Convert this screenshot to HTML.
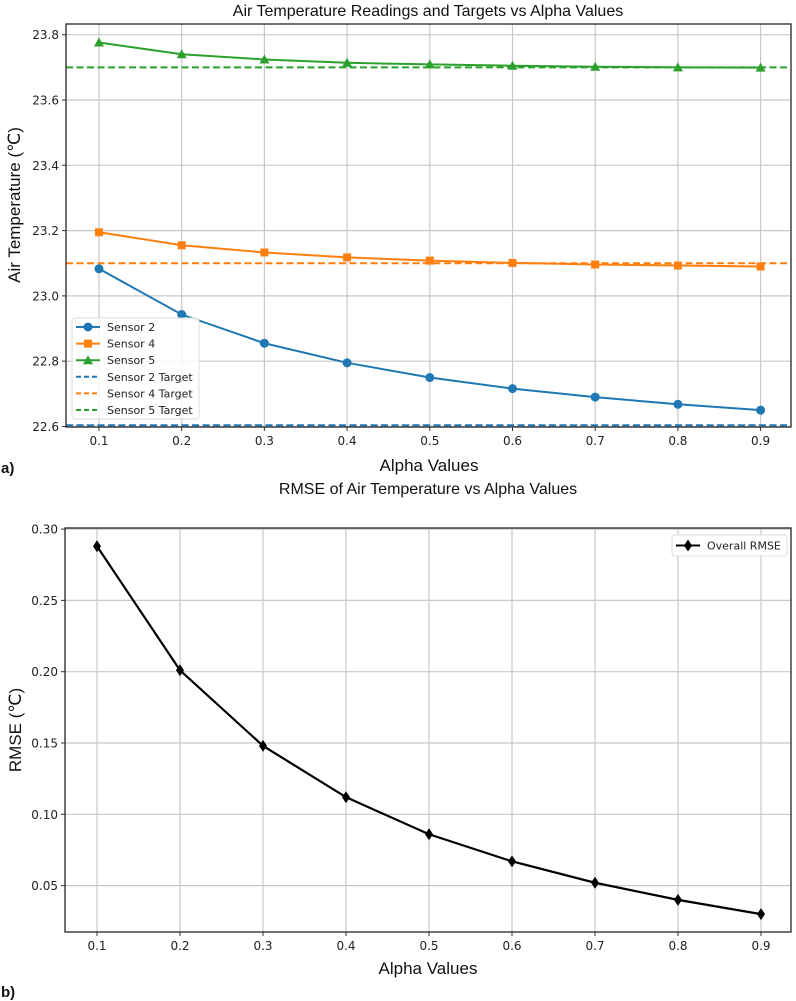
<!DOCTYPE html>
<html><head><meta charset="utf-8"><style>
html,body{margin:0;padding:0;background:#fff;}
svg{display:block;}
.tk{font-family:"DejaVu Sans",sans-serif;font-size:12px;fill:#222;}
.lg{font-family:"DejaVu Sans",sans-serif;font-size:11px;fill:#222;}
.lb{font-family:"Liberation Sans",Arial,sans-serif;fill:#111;}
</style></head><body>
<svg id="c" width="796" height="1001" xmlns="http://www.w3.org/2000/svg"></svg>
<script>
const alphas=[0.1,0.2,0.3,0.4,0.5,0.6,0.7,0.8,0.9];
const sensor2=[23.083,22.943,22.855,22.795,22.750,22.716,22.690,22.668,22.650];
const sensor4=[23.195,23.155,23.133,23.118,23.108,23.101,23.096,23.093,23.090];
const sensor5=[23.776,23.740,23.724,23.714,23.709,23.705,23.702,23.700,23.699];
const targets=[22.604,23.1,23.7];
const rmse=[0.288,0.201,0.148,0.112,0.086,0.067,0.052,0.040,0.030];
const topYTicks=[22.6,22.8,23.0,23.2,23.4,23.6,23.8];
const botYTicks=[0.05,0.10,0.15,0.20,0.25,0.30];
const xTicks=[0.1,0.2,0.3,0.4,0.5,0.6,0.7,0.8,0.9];

const NS="http://www.w3.org/2000/svg";
const svg=document.getElementById('c');
function mk(tag,attrs,parent,text){const e=document.createElementNS(NS,tag);for(const k in attrs)e.setAttribute(k,attrs[k]);if(text!==undefined)e.textContent=text;(parent||svg).appendChild(e);return e;}

const A={l:66,r:791,t:24,b:427};
const ax=v=>99+(v-0.1)*827;
const ay=v=>34.7+(23.8-v)*326.5;
const B={l:65,r:791,t:528,b:932};
const bx=v=>97+(v-0.1)*830;
const by=v=>814.3+(0.10-v)*1426;

function panel(P,fx,fy,yt,fmt,name){
  const g=mk('g',{},svg);
  
  
  xTicks.forEach(v=>{const x=fx(v);
    const l=mk('line',{x1:x,x2:x,y1:P.t,y2:P.b,stroke:'#c8c8c8','stroke-width':1.2},g);
    
    mk('line',{x1:x,x2:x,y1:P.b,y2:P.b+4,stroke:'#333'},g);
    const t=mk('text',{x:x,y:P.b+18,'text-anchor':'middle',class:'tk'},g,v.toFixed(1));
    
  });
  yt.forEach(v=>{const y=fy(v);
    const l=mk('line',{x1:P.l,x2:P.r,y1:y,y2:y,stroke:'#c8c8c8','stroke-width':1.2},g);
    
    mk('line',{x1:P.l-4,x2:P.l,y1:y,y2:y,stroke:'#333'},g);
    const t=mk('text',{x:P.l-7,y:y+4.5,'text-anchor':'end',class:'tk'},g,fmt(v));
    
  });
  return g;
}
function frame(P){const r=mk('rect',{x:P.l,y:P.t,width:P.r-P.l,height:P.b-P.t,fill:'none',stroke:'#333','stroke-width':1.4});
  }

function marker(type,x,y,c,parent){
  if(type==='o')return mk('circle',{cx:x,cy:y,r:4.5,fill:c},parent);
  if(type==='s')return mk('rect',{x:x-4,y:y-4,width:8,height:8,fill:c},parent);
  if(type==='^')return mk('polygon',{points:`${x},${y-5} ${x-5},${y+4} ${x+5},${y+4}`,fill:c},parent);
  if(type==='d')return mk('polygon',{points:`${x},${y-6} ${x-4},${y} ${x},${y+6} ${x+4},${y}`,fill:c},parent);
}
function series(vals,fx,fy,c,m,name,w){
  const g=mk('g',{},svg);
  
  mk('polyline',{points:vals.map((v,i)=>fx(alphas[i])+','+fy(v)).join(' '),fill:'none',stroke:c,'stroke-width':w||2},g);
  vals.forEach((v,i)=>{const e=marker(m,fx(alphas[i]),fy(v),c,g);
    });
}

const colors=['#1f77b4','#ff7f0e','#2ca02c'];
panel(A,ax,ay,topYTicks,v=>v.toFixed(1),'temperature');
targets.forEach((t,i)=>{const l=mk('line',{x1:A.l,x2:A.r,y1:ay(t),y2:ay(t),stroke:colors[i],'stroke-width':2,'stroke-dasharray':'7,3.5'});
  });
series(sensor2,ax,ay,colors[0],'o','sensor-2-line');
series(sensor4,ax,ay,colors[1],'s','sensor-4-line');
series(sensor5,ax,ay,colors[2],'^','sensor-5-line');
frame(A);

const lg=mk('g',{},svg);

mk('rect',{x:72,y:318,width:127,height:101,rx:3,fill:'#fff','fill-opacity':0.85,stroke:'#ddd'},lg);
const entries=[['Sensor 2',0,'o',0],['Sensor 4',1,'s',0],['Sensor 5',2,'^',0],['Sensor 2 Target',0,null,1],['Sensor 4 Target',1,null,1],['Sensor 5 Target',2,null,1]];
entries.forEach((e,i)=>{const y=327+i*16.6;
  const eg=mk('g',{},lg);
  mk('line',{x1:76,x2:100,y1:y,y2:y,stroke:colors[e[1]],'stroke-width':2,'stroke-dasharray':e[3]?'5,3':'none'},eg);
  if(e[2])marker(e[2],88,y,colors[e[1]],eg);
  mk('text',{x:107,y:y+4,class:'lg'},eg,e[0]);
});

panel(B,bx,by,botYTicks,v=>v.toFixed(2),'rmse');
series(rmse,bx,by,'#000','d','rmse-line',2.2);
frame(B);
const lb=mk('g',{},svg);
mk('rect',{x:672,y:535,width:115,height:21,rx:3,fill:'#fff',stroke:'#ddd'},lb);
mk('line',{x1:676,x2:700,y1:545.5,y2:545.5,stroke:'#000','stroke-width':2},lb);
marker('d',688,545.5,'#000',lb);
mk('text',{x:707,y:549.5,class:'lg'},lb,'Overall RMSE');

function label(x,y,txt,size,name,rot,weight){
  const t=mk('text',{x:x,y:y,'text-anchor':'middle',class:'lb','font-size':size,'font-weight':weight||'normal',transform:rot?`rotate(-90 ${x} ${y})`:''},svg,txt);
  
}
label(428,16,'Air Temperature Readings and Targets vs Alpha Values',16,'top-chart-title');
label(20,205,'Air Temperature (℃)',17,'top-y-axis-title',true);
label(429,471,'Alpha Values',17,'top-x-axis-title');
label(428,494,'RMSE of Air Temperature vs Alpha Values',16,'bottom-chart-title');
label(21,730,'RMSE (℃)',17,'bottom-y-axis-title',true);
label(428,974,'Alpha Values',17,'bottom-x-axis-title');
const pa=mk('text',{x:1,y:473,class:'lb','font-size':15,'font-weight':'bold'},svg,'a)');

const pb=mk('text',{x:1,y:997,class:'lb','font-size':15,'font-weight':'bold'},svg,'b)');

</script>
</body></html>
